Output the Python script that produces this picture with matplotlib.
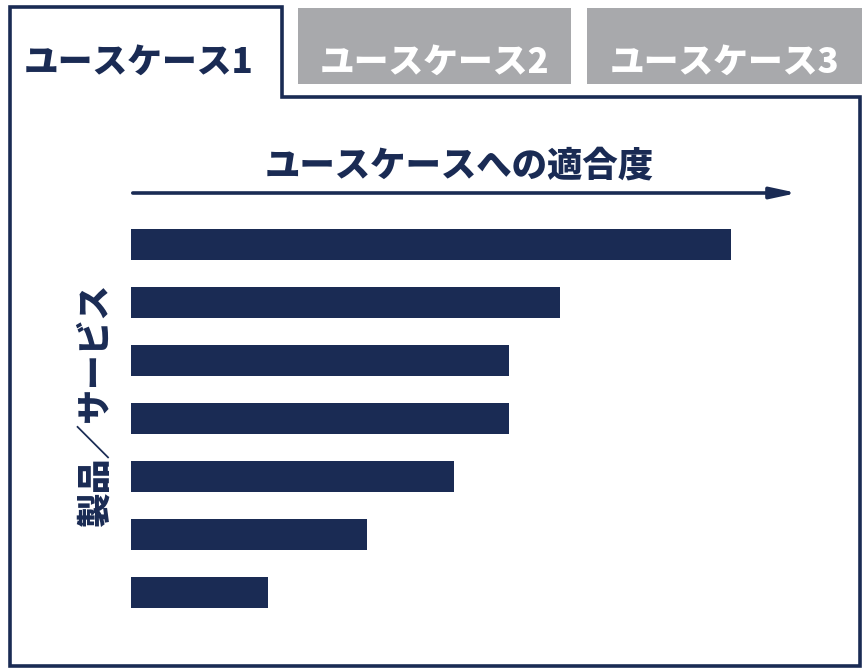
import matplotlib.pyplot as plt
from matplotlib.patches import Rectangle, Polygon, FancyArrowPatch

plt.rcParams['font.family'] = ['Noto Sans CJK JP', 'DejaVu Sans']

# data
tabs = ['ユースケース1', 'ユースケース2', 'ユースケース3']
products = ['製品A', '製品B', '製品C', '製品D', '製品E', '製品F', '製品G']
fit_score = [89.7, 64.1, 56.5, 56.5, 48.3, 35.3, 20.5]

navy = '#1a2b54'
grey = '#a8a9ac'

W, H = 868, 670
fig = plt.figure(figsize=(W / 100, H / 100), dpi=100)


def fx(px):
    return px / W


def fy(py):
    return 1 - py / H


# grey inactive tabs
for x0, x1 in [(298, 571), (587, 862)]:
    fig.patches.append(Rectangle((fx(x0), fy(84)), fx(x1 - x0), (84 - 8) / H,
                                 transform=fig.transFigure, facecolor=grey,
                                 edgecolor='none', zorder=1))

# outline of the active tab + panel
outline = [(10, 666), (10, 7), (282, 7), (282, 97), (860, 97), (860, 666)]
fig.patches.append(Polygon([(fx(x), fy(y)) for x, y in outline], closed=True,
                           transform=fig.transFigure, facecolor='none',
                           edgecolor=navy, linewidth=2.6, zorder=2))

# tab labels
tab_pos = [(139, navy), (435, 'white'), (725, 'white')]
for label, (cx, col) in zip(tabs, tab_pos):
    fig.text(fx(cx), fy(62), label, color=col, fontsize=25, fontweight='heavy',
             ha='center', va='center')

# title and arrow
fig.text(fx(459), fy(165), 'ユースケースへの適合度', color=navy, fontsize=25.5,
         fontweight='heavy', ha='center', va='center')
fig.patches.append(FancyArrowPatch(
    (fx(130), fy(193)), (fx(800), fy(193)), transform=fig.transFigure,
    arrowstyle='-|>,head_length=1.3,head_width=0.28', mutation_scale=12,
    color=navy, linewidth=2.6))

# y label
fig.text(fx(95), fy(405), '製品／サービス', color=navy, fontsize=25,
         fontweight='heavy', rotation=90, ha='center', va='center')

# bars
ax = fig.add_axes([fx(131), fy(621.5), fx(800 - 131), (621.5 - 215.5) / H])
ax.barh(range(len(products)), fit_score, height=0.534, color=navy)
ax.set_xlim(0, 100)
ax.set_ylim(len(products) - 0.5, -0.5)
ax.axis('off')

fig.savefig('out.png', dpi=100)
